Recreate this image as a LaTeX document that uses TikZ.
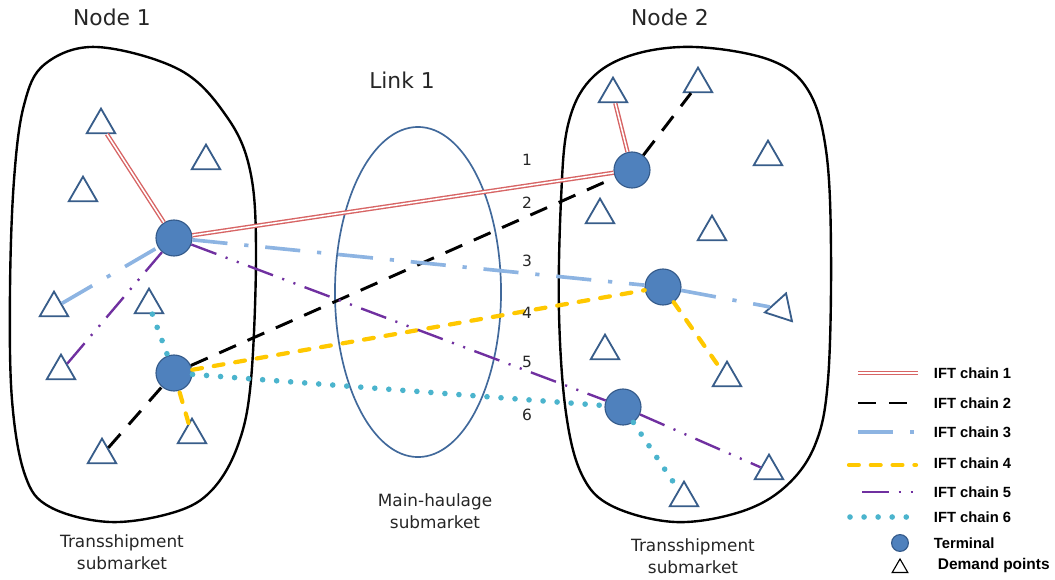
\documentclass[tikz,border=0pt]{standalone}
\usepackage{fontspec}
\setmainfont{DejaVu Sans}
\newfontfamily\legendfont{Liberation Sans}
\usetikzlibrary{shapes.geometric}
\definecolor{termfill}{RGB}{79,129,189}
\definecolor{termline}{RGB}{52,90,138}
\definecolor{demandblue}{RGB}{56,93,138}
\definecolor{linkblue}{RGB}{65,105,155}
\definecolor{c1}{RGB}{215,100,100}
\definecolor{c3}{RGB}{141,180,226}
\definecolor{c4}{RGB}{255,200,0}
\definecolor{c5}{RGB}{112,48,160}
\definecolor{c6}{RGB}{75,180,205}

\begin{document}
\begin{tikzpicture}[x=0.025cm, y=-0.025cm,
    terminal/.style={circle, draw=termline, fill=termfill, line width=0.8pt,
      minimum size=0.9cm, inner sep=0pt},
    demand/.style={regular polygon, regular polygon sides=3, draw=demandblue,
      fill=white, line width=1.3pt, minimum size=0.82cm, inner sep=0pt},
    chain1/.style={draw=c1, double=white, line width=1pt, double distance=1.1pt},
    chain2/.style={black, line width=2.1pt, dash pattern=on 13pt off 9pt},
    chain3/.style={c3, line width=2.6pt, dash pattern=on 25pt off 12pt on 3pt off 12pt},
    chain4/.style={c4, line width=3pt, line cap=round, dash pattern=on 7pt off 8.5pt},
    chain5/.style={c5, line width=1.7pt,
      dash pattern=on 19pt off 7pt on 1.5pt off 7pt on 1.5pt off 7pt},
    chain6/.style={c6, line width=4pt, line cap=round, dash pattern=on 0pt off 10pt},
    blob/.style={black, line width=1.7pt},
    head/.style={text=black!85, font=\fontsize{15.5}{18}\selectfont},
    lab/.style={text=black!85, align=center, font=\fontsize{12}{15.5}\selectfont},
    num/.style={text=black!85, font=\fontsize{11}{13}\selectfont},
    legend/.style={anchor=west, font=\legendfont\bfseries\fontsize{10.5}{12}\selectfont}]
  \useasboundingbox (0,0) rectangle (1055,580);

  \draw [blob] plot [smooth cycle, tension=0.6] coordinates {(97,47) (180,70)
    (227,117) (250,170) (256,250) (251,380) (238,445) (212,490) (175,512)
    (110,522) (50,507) (25,475) (12,400) (10,290) (14,180) (24,105) (45,64)};
  \draw [blob] plot [smooth cycle, tension=0.6] coordinates {(695,47) (770,60)
    (808,90) (826,150) (831,250) (828,380) (815,445) (785,487) (740,512)
    (675,522) (612,506) (582,475) (566,413) (559,313) (561,200) (568,125)
    (590,80) (632,55)};
  \draw [linkblue, line width=1.2pt] (418,292) ellipse [x radius=2.075cm, y radius=4.125cm];

  \node [head] (h1) at (112,17) {Node 1}; \node [head] (h2) at (670,17) {Node 2};
  \node [head] (h3) at (402,80) {Link 1};
  \node [lab] (s1) at (122,552) {Transshipment\\submarket};
  \node [lab] (s2) at (435,511) {Main-haulage\\submarket};
  \node [lab] (s3) at (693,556) {Transshipment\\submarket};

  \begin{scope}[every node/.style={demand}]
    \node (d1) at (101,125) {}; \node (d2) at (206,161) {}; \node (d3) at
    (83,193) {}; \node (d4) at (54,308) {}; \node (d5) at (149,305) {};
    \node (d6) at (61,371) {}; \node (d7) at (192,435) {}; \node (d8) at
    (102,455) {};
    \node (d9) at (613,94) {}; \node (d10) at (698,84) {}; \node (d11) at
    (768,157) {}; \node (d12) at (600,215) {}; \node (d13) at (712,232) {};
    \node [rotate=-18] (d14) at (781,309) {}; \node (d15) at (605,351) {};
    \node (d16) at (727,378) {}; \node (d17) at (769,471) {}; \node (d18)
    at (684,498) {};
  \end{scope}

  \begin{scope}[every node/.style={terminal}]
    \node (t1) at (174,238) {}; \node (t2) at (174,373) {};
    \node (t3) at (632,170) {}; \node (t4) at (663,287) {}; \node (t5) at
    (623,407) {};
  \end{scope}

  \draw [chain1] (d1) -- (t1) -- (t3) -- (d9);
  \draw [chain2] (d8) -- (t2) -- (t3) -- (d10);
  \draw [chain3] (d4) -- (t1) -- (t4) -- (d14);
  \draw [chain4] (d7) -- (t2) -- (t4) -- (d16);
  \draw [chain5] (d6) -- (t1) -- (t5) -- (d17);
  \draw [chain6] (d5) -- (t2) -- (t5) -- (d18);

  \begin{scope}[every node/.style={num}]
    \node (n1) at (527,160) {1}; \node (n2) at (527,203) {2}; \node (n3) at
    (527,261) {3}; \node (n4) at (527,313) {4}; \node (n5) at (527,362) {5};
    \node (n6) at (527,415) {6};
  \end{scope}

  % legend
  \coordinate (la1) at (858,373); \coordinate (lb1) at (918,373);
  \coordinate (la2) at (858,403); \coordinate (lb2) at (918,403);
  \coordinate (la3) at (858,432); \coordinate (lb3) at (918,432);
  \coordinate (la4) at (849,465); \coordinate (lb4) at (916,465);
  \coordinate (la5) at (862,492); \coordinate (lb5) at (918,492);
  \coordinate (la6) at (850,517); \coordinate (lb6) at (912,517);
  \draw [chain1] (la1) -- (lb1); \draw [chain2] (la2) -- (lb2);
  \draw [chain3] (la3) -- (lb3); \draw [chain4] (la4) -- (lb4);
  \draw [chain5] (la5) -- (lb5); \draw [chain6] (la6) -- (lb6);
  \node [legend] (lt1) at (929,373) {IFT chain 1};
  \node [legend] (lt2) at (929,403) {IFT chain 2};
  \node [legend] (lt3) at (929,432) {IFT chain 3};
  \node [legend] (lt4) at (929,463) {IFT chain 4};
  \node [legend] (lt5) at (929,492) {IFT chain 5};
  \node [legend] (lt6) at (929,517) {IFT chain 6};
  \node [terminal, minimum size=0.42cm] (lt7) at (900,543) {};
  \node [legend] (lt8) at (929,543) {Terminal};
  \node [demand, draw=black, line width=0.8pt, minimum size=0.45cm] (lt9) at
  (900,568) {};
  \node [legend, font=\legendfont\bfseries\fontsize{11}{13}\selectfont] (lt10)
  at (933,565) {Demand points};
\end{tikzpicture}
\end{document}
